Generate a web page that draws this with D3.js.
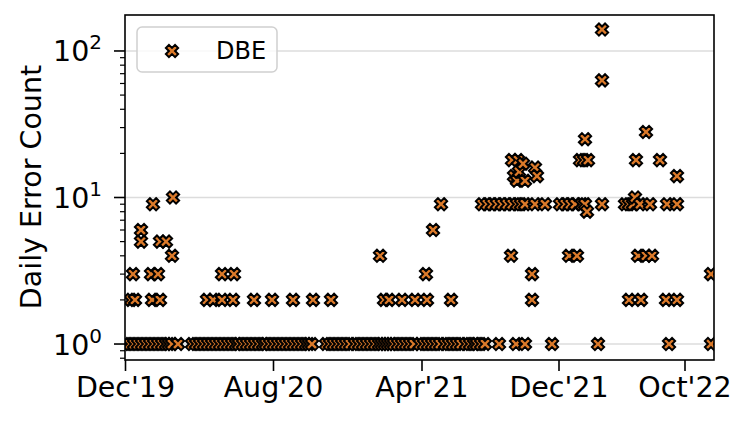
<!DOCTYPE html>
<html><head><meta charset="utf-8">
<script src="https://cdn.jsdelivr.net/npm/d3@7"></script>
<style>body{margin:0;background:#fff} text{font-family:"DejaVu Sans",sans-serif;fill:#000}</style>
</head><body><svg id="c" width="748" height="424"></svg>
<script>
// x values: day index along the (non-linear) observation axis
const xTickValues = [0, 296, 593, 867, 1119];
const xTickLabels = ["Dec'19", "Aug'20", "Apr'21", "Dec'21", "Oct'22"];
const yTickValues = [1, 10, 100];
const yTickExponents = ["0", "1", "2"];
const seriesName = "DBE";

// days with a given daily error count
const days1 = [2,10,18,26,34,42,50,58,66,74,82,88,94,106,
  134,142,150,158,166,174,182,190,198,206,214,222,228,236,244,252,260,268,276,282,290,298,306,314,322,330,338,346,354,362,368,374,
  402,410,418,426,434,442,450,460,468,476,484,492,500,508,514,520,526,532,538,546,554,562,570,578,590,598,606,614,622,630,640,648,656,664,672,682,690,698,704,712,720,
  748,782,800,854,946,1088,1172];
const days2 = [12,20,54,70,164,176,194,216,258,294,336,376,412,518,528,554,580,604,652,814,1008,1032,1082,1104];
const days3 = [16,52,66,194,218,602,814,1172];
const days4 = [94,510,772,888,904,1026,1042,1054];
const days5 = [32,70,82];
const days6 = [32,616];
const days8 = [924];
const days9 = [56,632,714,724,734,744,754,764,774,784,792,800,820,840,870,880,890,900,914,920,954,1000,1008,1016,1030,1050,1084,1104];
const days10 = [96,1020];
const days13 = [784,800];
const days14 = [778,824,1104];
const days15 = [788];
const days16 = [820];
const days17 = [796];
const days18 = [774,786,910,918,926,1022,1070];
const days25 = [920];
const days28 = [1042];
const days63 = [954];
const days140 = [954];

const levels = [[1,days1],[2,days2],[3,days3],[4,days4],[5,days5],[6,days6],[8,days8],[9,days9],[10,days10],
  [13,days13],[14,days14],[15,days15],[16,days16],[17,days17],[18,days18],[25,days25],[28,days28],[63,days63],[140,days140]];
const points = [];
levels.forEach(([c, ds]) => ds.forEach(d => points.push({day: d, count: c})));
points.sort((a, b) => a.day - b.day || a.count - b.count);

const svg = d3.select("#c");
const L = 125, R = 714, T = 15, B = 360;
const x = d3.scaleLinear().domain([0, 1178]).range([L, R]);
const y = d3.scaleLog().domain([0.778, 176]).range([B, T]);

const fill = "#dc7a2a";
function xMarker(s) {
  const v = [[-1,-3],[1,-3],[1,-1],[3,-1],[3,1],[1,1],[1,3],[-1,3],[-1,1],[-3,1],[-3,-1],[-1,-1]];
  const c = Math.SQRT1_2;
  return "M" + v.map(([a, b]) => [(a - b) * c * s / 6, (a + b) * c * s / 6].map(n => n.toFixed(2)).join(",")).join("L") + "Z";
}
const mpath = xMarker(13);

svg.append("defs").append("clipPath").attr("id", "clip")
  .append("rect").attr("x", L).attr("y", T).attr("width", R - L).attr("height", B - T);

// grid
svg.append("g").selectAll("line").data(yTickValues).join("line")
  .attr("x1", L).attr("x2", R).attr("y1", d => y(d)).attr("y2", d => y(d))
  .attr("stroke", "#dcdcdc").attr("stroke-width", 1.5);

// points
svg.append("g").attr("clip-path", "url(#clip)").selectAll("path").data(points).join("path")
  .attr("d", mpath)
  .attr("transform", d => `translate(${x(d.day)},${y(d.count)})`)
  .attr("fill", fill).attr("stroke", "#000").attr("stroke-width", 2).attr("stroke-linejoin", "miter");

// spines
svg.append("rect").attr("x", L).attr("y", T).attr("width", R - L).attr("height", B - T)
  .attr("fill", "none").attr("stroke", "#000").attr("stroke-width", 1.6);

// x axis
const xAxis = d3.axisBottom(x).tickValues(xTickValues).tickSize(11).tickPadding(6)
  .tickFormat((d, i) => xTickLabels[i]);
const gx = svg.append("g").attr("transform", `translate(0,${B})`).call(xAxis);
gx.select(".domain").remove();
gx.selectAll(".tick line").attr("stroke", "#000").attr("stroke-width", 1.6);
gx.selectAll(".tick text").attr("font-size", 28.5).attr("font-family", "DejaVu Sans").attr("fill", "#000");

// y axis: major ticks
const gy = svg.append("g").attr("transform", `translate(${L},0)`);
const minor = [];
[0.1, 1, 10, 100].forEach(b => { for (let k = 2; k <= 9; k++) { const v = b * k; if (v >= 0.778 && v <= 176) minor.push(v); } });
gy.selectAll(".minor").data(minor).join("line").attr("class", "minor")
  .attr("x1", -5).attr("x2", 0).attr("y1", d => y(d)).attr("y2", d => y(d))
  .attr("stroke", "#000").attr("stroke-width", 1.2);
gy.selectAll(".major").data(yTickValues).join("line").attr("class", "major")
  .attr("x1", -11).attr("x2", 0).attr("y1", d => y(d)).attr("y2", d => y(d))
  .attr("stroke", "#000").attr("stroke-width", 1.6);
const yl = gy.selectAll(".lab").data(yTickValues).join("text").attr("class", "lab")
  .attr("x", -23).attr("y", d => y(d) + 10.5).attr("text-anchor", "end");
yl.append("tspan").attr("font-size", 28.5).text("10");
yl.append("tspan").attr("font-size", 20).attr("dy", -12).text((d, i) => yTickExponents[i]);

// y label
svg.append("text").attr("transform", `translate(41,187) rotate(-90)`)
  .attr("text-anchor", "middle").attr("font-size", 28.5).text("Daily Error Count");

// legend
const lg = svg.append("g");
lg.append("rect").attr("x", 137).attr("y", 27).attr("width", 140).attr("height", 45).attr("rx", 5)
  .attr("fill", "#fff").attr("fill-opacity", 0.8).attr("stroke", "#d0d0d0").attr("stroke-width", 1.5);
lg.append("path").attr("d", mpath).attr("transform", "translate(172,51)")
  .attr("fill", fill).attr("stroke", "#000").attr("stroke-width", 2);
lg.append("text").attr("x", 216).attr("y", 59).attr("font-size", 24).text(seriesName);
</script></body></html>
